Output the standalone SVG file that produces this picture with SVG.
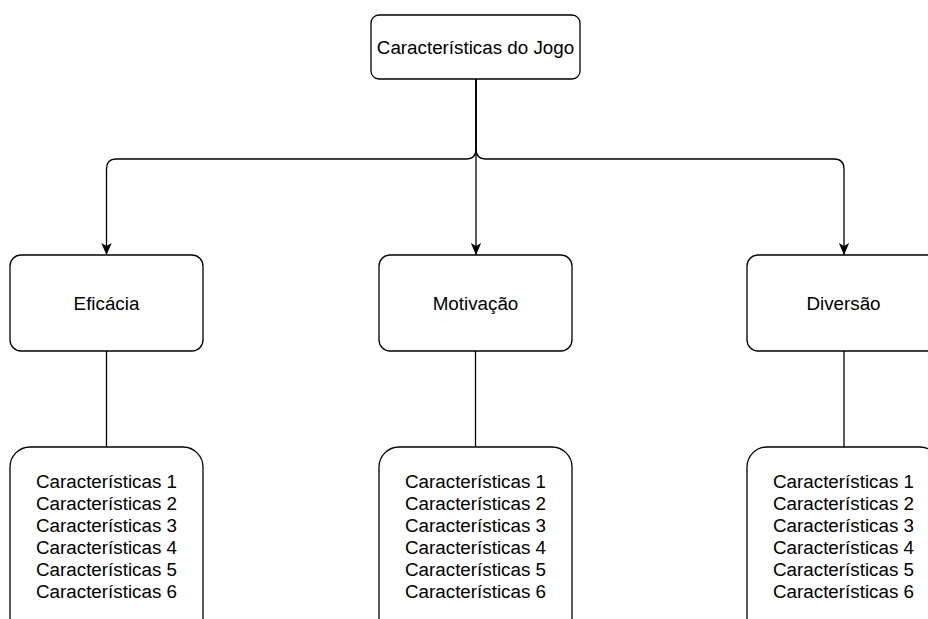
<svg xmlns="http://www.w3.org/2000/svg" width="928" height="619" viewBox="0 0 928 619">
<style>
.box{fill:#fff;stroke:#000;stroke-width:1.3}
.lbl{font-family:"Liberation Sans",Arial,sans-serif;font-size:18.8px;fill:#000;text-anchor:middle}
.edge{fill:none;stroke:#000;stroke-width:1.3}
</style>
<defs>
<marker id="arr" viewBox="0 0 12 12" refX="12" refY="6" markerWidth="12" markerHeight="12" markerUnits="userSpaceOnUse" orient="auto">
<path d="M0,0.8 L12,6 L0,11.2 L3,6 Z" fill="#000"/>
</marker>
</defs>
<rect width="928" height="619" fill="#fff"/>
<g id="connectors">
<path class="edge" d="M476,79 L476,149 Q476,159 466,159 L116,159 Q106.5,159 106.5,169 L106.5,255" marker-end="url(#arr)"/>
<path class="edge" d="M476,79 L476,255" marker-end="url(#arr)"/>
<path class="edge" d="M476,79 L476,149 Q476,159 486,159 L834,159 Q844,159 844,169 L844,255" marker-end="url(#arr)"/>
<path class="edge" d="M106.5,351 L106.5,447"/>
<path class="edge" d="M475.5,351 L475.5,447"/>
<path class="edge" d="M844,351 L844,447"/>
</g>
<g id="top">
<rect class="box" x="371" y="15" width="209" height="64" rx="8" ry="8"/>
<text class="lbl" x="475.5" y="54">Características do Jogo</text>
</g>
<g id="eficacia">
<rect class="box" x="10" y="255" width="193" height="96" rx="11" ry="11"/>
<text class="lbl" x="106.5" y="310">Eficácia</text>
</g>
<g id="motivacao">
<rect class="box" x="379" y="255" width="193" height="96" rx="11" ry="11"/>
<text class="lbl" x="475.5" y="310">Motivação</text>
</g>
<g id="diversao">
<rect class="box" x="747" y="255" width="193" height="96" rx="11" ry="11"/>
<text class="lbl" x="843.5" y="310">Diversão</text>
</g>
<g id="eficacia-list">
<rect class="box" x="10" y="447" width="193" height="200" rx="20" ry="20"/>
<text class="lbl" x="106.5" y="488">Características 1<tspan x="106.5" dy="22">Características 2</tspan><tspan x="106.5" dy="22">Características 3</tspan><tspan x="106.5" dy="22">Características 4</tspan><tspan x="106.5" dy="22">Características 5</tspan><tspan x="106.5" dy="22">Características 6</tspan></text>
</g>
<g id="motivacao-list">
<rect class="box" x="379" y="447" width="193" height="200" rx="20" ry="20"/>
<text class="lbl" x="475.5" y="488">Características 1<tspan x="475.5" dy="22">Características 2</tspan><tspan x="475.5" dy="22">Características 3</tspan><tspan x="475.5" dy="22">Características 4</tspan><tspan x="475.5" dy="22">Características 5</tspan><tspan x="475.5" dy="22">Características 6</tspan></text>
</g>
<g id="diversao-list">
<rect class="box" x="747" y="447" width="193" height="200" rx="20" ry="20"/>
<text class="lbl" x="843.5" y="488">Características 1<tspan x="843.5" dy="22">Características 2</tspan><tspan x="843.5" dy="22">Características 3</tspan><tspan x="843.5" dy="22">Características 4</tspan><tspan x="843.5" dy="22">Características 5</tspan><tspan x="843.5" dy="22">Características 6</tspan></text>
</g>
</svg>
